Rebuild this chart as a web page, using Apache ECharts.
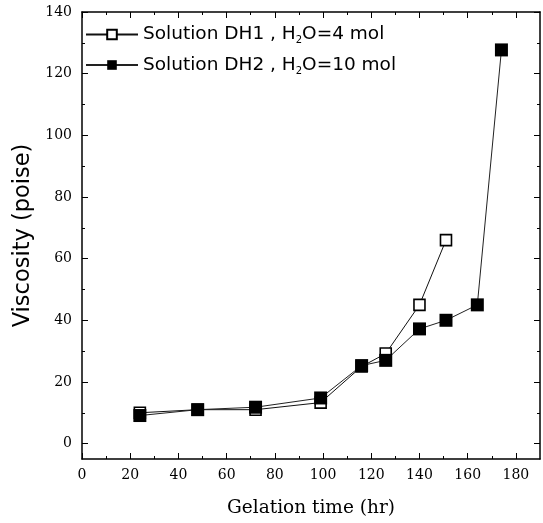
<!DOCTYPE html>
<html>
<head>
<meta charset="utf-8">
<script src="https://cdn.jsdelivr.net/npm/echarts@6/dist/echarts.min.js"></script>
<style>html,body{margin:0;padding:0;background:#fff}#c{width:543px;height:523px}</style>
</head>
<body>
<div id="c"></div>
<script>
const xDH1 = [24, 48, 72, 99, 116, 126, 140, 151];
const yDH1 = [10, 11, 11, 13.3, 25, 29.2, 45, 66];
const xDH2 = [24, 48, 72, 99, 116, 126, 140, 151, 164, 174];
const yDH2 = [9.1, 11, 11.8, 14.8, 25.3, 27, 37.2, 40, 45, 127.7];
const xTicks = [0, 20, 40, 60, 80, 100, 120, 140, 160, 180];
const xMinor = [10, 30, 50, 70, 90, 110, 130, 150, 170];
const yTicks = [0, 20, 40, 60, 80, 100, 120, 140];
const yMinor = [10, 30, 50, 70, 90, 110, 130];
const seriesNames = ['DH1', 'DH2'];
const legendTexts = {
  DH1: '{a|Solution DH1 , H}{s|2}{a|O=4 mol}',
  DH2: '{a|Solution DH2 , H}{s|2}{a|O=10 mol}'
};

const chart = echarts.init(document.getElementById('c'), null, {renderer: 'canvas'});
const serif = '"DejaVu Serif", "Liberation Serif", serif';
const sans = '"DejaVu Sans", "Liberation Sans", Arial, sans-serif';
const lineStyleAxis = {color: '#000', width: 1.5};

function xAxisDef(pos, values, len, labels, line) {
  return {
    type: 'value', position: pos, min: 0, max: 190,
    axisLine: {show: line, onZero: false, lineStyle: lineStyleAxis},
    axisTick: {show: true, inside: true, length: len, customValues: values, lineStyle: {color: '#000', width: 1}},
    axisLabel: {show: labels, customValues: values, margin: 9, color: '#000', fontFamily: serif, fontSize: 14},
    splitLine: {show: false}
  };
}
function yAxisDef(pos, values, len, labels, line) {
  return {
    type: 'value', position: pos, min: -5, max: 140,
    axisLine: {show: line, onZero: false, lineStyle: lineStyleAxis},
    axisTick: {show: true, inside: true, length: len, customValues: values, lineStyle: {color: '#000', width: 1}},
    axisLabel: {show: labels, customValues: values, margin: 10, color: '#000', fontFamily: serif, fontSize: 14},
    splitLine: {show: false}
  };
}

const xAxes = [
  Object.assign(xAxisDef('bottom', xTicks, 6, true, true), {
    name: 'Gelation time (hr)', nameLocation: 'middle', nameGap: 40,
    nameTextStyle: {fontFamily: serif, fontSize: 18.5, color: '#000'}
  }),
  xAxisDef('top', xTicks, 6, false, true),
  xAxisDef('bottom', xMinor, 3, false, false),
  xAxisDef('top', xMinor, 3, false, false)
];
const yAxes = [
  Object.assign(yAxisDef('left', yTicks, 6, true, true), {
    name: 'Viscosity (poise)', nameLocation: 'middle', nameGap: 42,
    nameTextStyle: {fontFamily: sans, fontSize: 22.5, color: '#000'}
  }),
  yAxisDef('right', yTicks, 6, false, true),
  yAxisDef('left', yMinor, 3, false, false),
  yAxisDef('right', yMinor, 3, false, false)
];

function pairs(xs, ys) { return xs.map((x, i) => [x, ys[i]]); }

const option = {
  backgroundColor: '#fff',
  animation: false,
  grid: {left: 82, right: 3, top: 12, bottom: 64, containLabel: false},
  legend: {
    orient: 'vertical', left: 80, top: 20, itemWidth: 52, itemHeight: 12, itemGap: 10,
    data: seriesNames,
    formatter: function (name) { return legendTexts[name]; },
    textStyle: {
      color: '#000', fontFamily: sans, fontSize: 18.5,
      rich: {
        a: {fontFamily: sans, fontSize: 18.5, color: '#000', lineHeight: 22},
        s: {fontFamily: sans, fontSize: 10, color: '#000', verticalAlign: 'bottom', lineHeight: 22, padding: [10, 0, 0, 0]}
      }
    }
  },
  xAxis: xAxes,
  yAxis: yAxes,
  series: [
    {
      name: 'DH1', type: 'line', data: pairs(xDH1, yDH1),
      symbol: 'rect', symbolSize: 11, showAllSymbol: true, z: 2,
      lineStyle: {color: '#111', width: 1},
      itemStyle: {color: '#fff', borderColor: '#000', borderWidth: 1.6}
    },
    {
      name: 'DH2', type: 'line', data: pairs(xDH2, yDH2),
      symbol: 'rect', symbolSize: 13, showAllSymbol: true, z: 3,
      lineStyle: {color: '#222', width: 1},
      itemStyle: {color: '#000', borderColor: '#000', borderWidth: 0}
    }
  ]
};
chart.setOption(option);
</script>
</body>
</html>
